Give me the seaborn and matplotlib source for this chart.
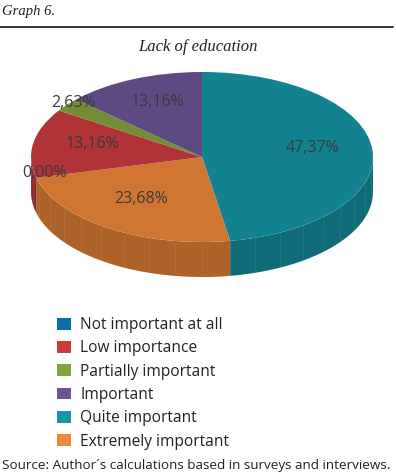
import numpy as np
import matplotlib
matplotlib.use("Agg")
import matplotlib.pyplot as plt
from matplotlib.patches import Wedge, Polygon, Patch
import seaborn as sns

# Data (slices listed clockwise from 12 o'clock, as drawn)
slice_labels = ["Quite important", "Extremely important", "Not important at all",
                "Low importance", "Partially important", "Important"]
slice_values = [47.37, 23.68, 0.00, 13.16, 2.63, 13.16]

legend_order = ["Not important at all", "Low importance", "Partially important",
                "Important", "Quite important", "Extremely important"]
legend_colors = ["#0b6fae", "#c93b3f", "#84a23f", "#6b5597", "#1695a6", "#f0883a"]

title = "Lack of education"
graph_no = "Graph 6."
source = "Source: Author\u00b4s calculations based in surveys and interviews."

sns.set_style("white")
pal = dict(zip(legend_order, sns.color_palette(legend_colors)))


def shade(c, f):
    return tuple(min(1, v * f) for v in c)


W, H = 396, 476
fig = plt.figure(figsize=(W / 100, H / 100), dpi=100)

# pie axes: top face ellipse x 31..373, y 72..242, depth 35px
depth = 35 / 85
ax = fig.add_axes([31 / W, 1 - 277 / H, 342 / W, 205 / H])
ax.set_xlim(-1, 1)
ax.set_ylim(-1 - depth, 1)
ax.axis("off")

start = 90.0
for lab, val in zip(slice_labels, slice_values):
    sweep = val / 100 * 360
    t1, t2 = start - sweep, start
    col = pal[lab]
    # side wall on the front half (angles between -180 and 0)
    lo, hi = max(t1, -180), min(t2, 0)
    if hi > lo:
        t = np.radians(np.linspace(lo, hi, 60))
        top = np.column_stack([np.cos(t), np.sin(t)])
        bot = np.column_stack([np.cos(t[::-1]), np.sin(t[::-1]) - depth])
        ax.add_patch(Polygon(np.vstack([top, bot]), closed=True,
                             facecolor=shade(col, 0.72), edgecolor="none"))
        for a in np.arange(np.ceil(lo / 9) * 9, hi, 9):
            r = np.radians(a)
            ax.plot([np.cos(r)] * 2, [np.sin(r), np.sin(r) - depth],
                    color="white", lw=0.5, alpha=0.09)
    if val > 0:
        ax.add_patch(Wedge((0, 0), 1, t1, t2, facecolor=shade(col, 0.87),
                           edgecolor="none"))
    # label
    mid = np.radians(start - sweep / 2)
    rr = 0.95 if val < 5 else 0.65
    ax.text(rr * np.cos(mid), rr * np.sin(mid) + 0.05,
            f"{val:.2f}%".replace(".", ","),
            ha="center", va="center", fontsize=11.5, color="#3a3a3a",
            family="Open Sans")
    start = t1

# header
fig.text(2 / W, 1 - 12 / H, graph_no, ha="left", va="center", fontsize=10.5,
         family="Liberation Serif", style="italic", color="#222222")
fig.add_artist(plt.Line2D([0, 393 / W], [1 - 27 / H] * 2, color="#111111", lw=1.2))
fig.text(198 / W, 1 - 47 / H, title, ha="center", va="center", fontsize=12,
         family="Liberation Serif", style="italic", color="#222222")

# legend
handles = [Patch(facecolor=pal[k], edgecolor="none") for k in legend_order]
fig.legend(handles, legend_order, loc="upper left",
           bbox_to_anchor=(57 / W, 1 - 317 / H), frameon=False, borderpad=0,
           borderaxespad=0, handlelength=0.9, handleheight=0.8,
           handletextpad=0.6, labelspacing=0.47,
           prop={"family": "Open Sans", "size": 11.2})
for t in fig.legends[0].get_texts():
    t.set_color("#222222")

fig.text(2 / W, 1 - 465 / H, source, ha="left", va="center", fontsize=9.7,
         family="Open Sans", color="#222222")

fig.savefig("out.png", dpi=100)
